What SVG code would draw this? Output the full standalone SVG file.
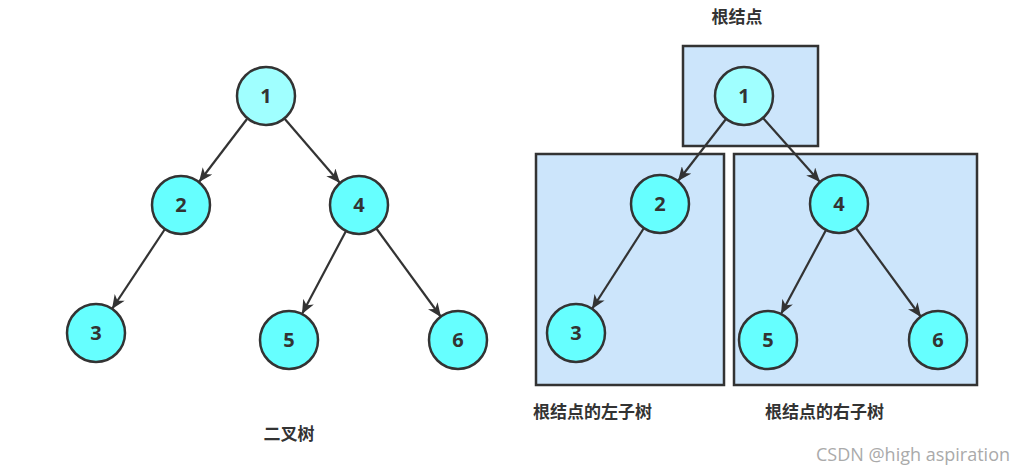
<svg xmlns="http://www.w3.org/2000/svg" width="1026" height="475" viewBox="0 0 1026 475">
<style>
.n circle{fill:#66ffff;stroke:#333;stroke-width:2.5}
.n.r circle{fill:#a0ffff}
.n text{font-family:"Open Sans","DejaVu Sans",sans-serif;font-weight:bold;font-size:20px;fill:#333;text-anchor:middle}
.box{fill:#cce5fb;stroke:#333;stroke-width:2.5}
.e line{stroke:#333;stroke-width:2.2;marker-end:url(#a)}
.lab{font-family:"Noto Sans CJK SC",sans-serif;font-weight:bold;font-size:17px;fill:#333}
</style>
<defs><marker id="a" markerUnits="userSpaceOnUse" markerWidth="16" markerHeight="12" refX="14" refY="6" orient="auto"><path d="M0,0 L14,6 L0,12 L4,6 Z" fill="#333"/></marker></defs>
<rect width="1026" height="475" fill="#fff"/>
<rect class="box" x="683" y="46" width="135" height="100"/>
<rect class="box" x="536" y="154" width="188" height="231"/>
<rect class="box" x="734" y="154" width="243" height="231"/>
<g class="e">
<line x1="247" y1="119" x2="199" y2="182"/>
<line x1="284" y1="118" x2="340" y2="183"/>
<line x1="165" y1="229" x2="112" y2="309"/>
<line x1="346" y1="231" x2="302" y2="314"/>
<line x1="376" y1="228" x2="441" y2="317"/>
<line x1="726" y1="119" x2="678" y2="181"/>
<line x1="763" y1="118" x2="820" y2="182"/>
<line x1="644" y1="228" x2="592" y2="309"/>
<line x1="826" y1="230" x2="781" y2="314"/>
<line x1="856" y1="228" x2="921" y2="317"/>
</g>
<g id="L1" class="n r"><circle cx="266" cy="96" r="29"/><text x="266" y="103">1</text></g>
<g id="L2" class="n"><circle cx="181" cy="205" r="29"/><text x="181" y="212">2</text></g>
<g id="L4" class="n"><circle cx="359" cy="205" r="29"/><text x="359" y="212">4</text></g>
<g id="L3" class="n"><circle cx="96" cy="333" r="29"/><text x="96" y="340">3</text></g>
<g id="L5" class="n"><circle cx="289" cy="340" r="29"/><text x="289" y="347">5</text></g>
<g id="L6" class="n"><circle cx="458" cy="340" r="29"/><text x="458" y="347">6</text></g>
<g id="R1" class="n r"><circle cx="744" cy="96" r="29"/><text x="744" y="103">1</text></g>
<g id="R2" class="n"><circle cx="660" cy="204" r="29"/><text x="660" y="211">2</text></g>
<g id="R4" class="n"><circle cx="839" cy="204" r="29"/><text x="839" y="211">4</text></g>
<g id="R3" class="n"><circle cx="576" cy="333" r="29"/><text x="576" y="340">3</text></g>
<g id="R5" class="n"><circle cx="768" cy="340" r="29"/><text x="768" y="347">5</text></g>
<g id="R6" class="n"><circle cx="938" cy="340" r="29"/><text x="938" y="347">6</text></g>
<text class="lab" x="289" y="440" text-anchor="middle">二叉树</text>
<text class="lab" x="737" y="23" text-anchor="middle">根结点</text>
<text class="lab" x="533" y="418">根结点的左子树</text>
<text class="lab" x="765" y="418">根结点的右子树</text>
<text x="1010" y="461" text-anchor="end" font-family="'Open Sans','DejaVu Sans',sans-serif" font-size="18" fill="#aaa">CSDN @high aspiration</text>
</svg>
